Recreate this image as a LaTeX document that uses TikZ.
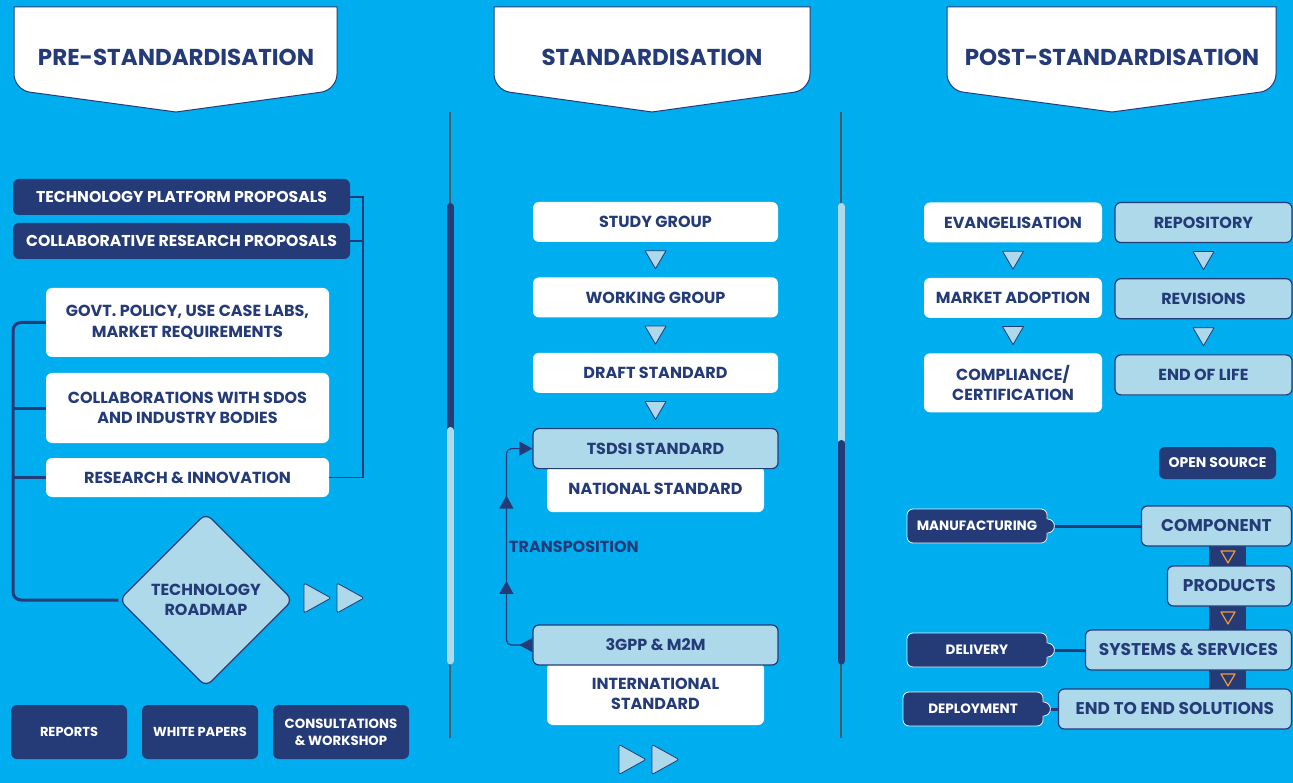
\documentclass[tikz,border=0pt]{standalone}
\usepackage{fontspec}
\setmainfont{Poppins}
\usetikzlibrary{arrows.meta, positioning, shapes.geometric, calc, decorations.markings}
\definecolor{bgblue}{HTML}{00AEEF}
\definecolor{navy}{HTML}{243B78}
\definecolor{paleblue}{HTML}{ADD9EB}
\definecolor{sepgray}{HTML}{4B5868}
\definecolor{tipor}{HTML}{F39A3A}
\tikzset{base/.style={rounded corners=6pt, inner sep=0pt, align=center, text=navy, font=\bfseries\fontsize{16}{20.5}\selectfont}}
\tikzset{wbox/.style={base, fill=white, minimum height=40pt}}
\tikzset{pbox/.style={base, fill=paleblue, draw=navy, line width=1.2pt, minimum height=40pt}}
\tikzset{nbox/.style={base, fill=navy, text=white}}
\tikzset{tagbox/.style={nbox, draw=white!70!paleblue, line width=0.8pt, minimum width=140pt, minimum height=34pt, font=\bfseries\fontsize{13.5}{16}\selectfont}}
\tikzset{head/.style={text=navy, font=\bfseries\fontsize{23}{27}\selectfont}}
\tikzset{tri/.style={fill=paleblue, draw=navy, line width=0.8pt, line join=round}}
\tikzset{otri/.style={draw=tipor, line width=1.2pt, line join=round}}
\tikzset{trunk/.style={navy, line width=3pt, rounded corners=8pt}}
\tikzset{thinlink/.style={navy, line width=1.2pt}}
\tikzset{>/.tip={Triangle[length=13pt,width=14pt]}}
% banner: left x, right x, tip x
\newcommand{\banner}[3]{\filldraw[fill=white, draw=navy, line width=1pt] (#1,7) [rounded corners=16pt] -- (#1,90) [sharp corners] -- (#3,112) [rounded corners=16pt] -- (#2,90) [sharp corners] -- (#2,7) -- cycle;}
\newcommand{\downtri}[2]{\draw[tri] ($(#1.south)!0.5!(#2.north)+(-10.5,-9)$) -- ++(21,0) -- ++(-10.5,18) -- cycle;}
\newcommand{\playtri}[2]{\draw[tri, rounded corners=2pt] ({#1-13},{#2-15}) -- ++(0,30) -- ++(27,-15) -- cycle;}

\begin{document}
\begin{tikzpicture}[x=1pt, y=-1pt]
\useasboundingbox (0,0) rectangle (1293,783);
\fill[bgblue] (0,0) rectangle (1293,783);

% headers
\banner{14}{337}{176}
\banner{494}{810}{652}
\banner{947}{1276}{1112}
\node[head] (hpre) at (176,57) {PRE-STANDARDISATION};
\node[head] (hstd) at (652,57) {STANDARDISATION};
\node[head] (hpost) at (1112,57) {POST-STANDARDISATION};

% separators
\foreach \x in {450,841} \draw[sepgray, line width=1.5pt] (\x,112) -- (\x,738);
\draw[navy, line width=7pt, line cap=round] (450,206.5) -- (450,430);
\draw[paleblue, line width=7pt, line cap=round] (450,430.5) -- (450,661);
\draw[paleblue, line width=7pt, line cap=round] (841,206.5) -- (841,440);
\draw[navy, line width=7pt, line cap=round] (841,443.5) -- (841,661);

% pre-standardisation
\coordinate (lx) at (13,0);
\coordinate (rx) at (363,0);
\node[nbox, minimum width=337pt, minimum height=36pt, font=\bfseries\fontsize{15.7}{20}\selectfont] (tp) at (181.5,197) {TECHNOLOGY PLATFORM PROPOSALS};
\node[nbox, minimum width=337pt, minimum height=36pt, font=\bfseries\fontsize{15.7}{20}\selectfont] (cr) at (181.5,241) {COLLABORATIVE RESEARCH PROPOSALS};
\node[wbox, minimum width=283pt, minimum height=69pt] (gp) at (187.5,322.5) {GOVT. POLICY, USE CASE LABS,\\MARKET REQUIREMENTS};
\node[wbox, minimum width=283pt, minimum height=70pt] (co) at (187.5,408) {COLLABORATIONS WITH SDOS\\AND INDUSTRY BODIES};
\node[wbox, minimum width=283pt, minimum height=39pt] (ri) at (187.5,477.5) {RESEARCH \& INNOVATION};
\node[base, diamond, fill=paleblue, draw=navy, line width=1.2pt, rounded corners=8pt, minimum width=174pt, minimum height=174pt, aspect=1] (rm) at (206,600) {TECHNOLOGY\\ROADMAP};
\draw[thinlink] (tp.east) -- (tp.east -| rx) |- (ri.east);
\draw[thinlink] (cr.east) -- (cr.east -| rx);
\draw[trunk] (gp.west) -| (rm.west -| lx) -- (rm.west);
\draw[trunk] (co.west) -- (co.west -| lx);
\draw[trunk] (ri.west) -- (ri.west -| lx);
\playtri{317}{598}
\playtri{350}{598}
\node[nbox, minimum width=116pt, minimum height=54pt, font=\bfseries\fontsize{13}{17}\selectfont] (rpt) at (69,732) {REPORTS};
\node[nbox, minimum width=116pt, minimum height=54pt, font=\bfseries\fontsize{13}{17}\selectfont] (wp) at (200,732) {WHITE PAPERS};
\node[nbox, minimum width=136pt, minimum height=54pt, font=\bfseries\fontsize{13.3}{17}\selectfont] (cw) at (341,732) {CONSULTATIONS\\\& WORKSHOP};

% standardisation
\node[wbox, minimum width=245pt] (sg) at (655.5,222) {STUDY GROUP};
\node[wbox, minimum width=245pt] (wg) [below=35pt of sg] {WORKING GROUP};
\node[wbox, minimum width=245pt] (dr) [below=35pt of wg] {DRAFT STANDARD};
\node[wbox, minimum width=217pt, minimum height=46pt] (ns) [below=73pt of dr] {NATIONAL STANDARD};
\node[pbox, minimum width=245pt] (ts) [below=35pt of dr] {TSDSI STANDARD};
\node[wbox, minimum width=217pt, minimum height=62pt] (is) at (655.5,694) {INTERNATIONAL\\STANDARD};
\node[pbox, minimum width=245pt] (g3) at (655.5,645) {3GPP \& M2M};
\downtri{sg}{wg}
\downtri{wg}{dr}
\downtri{dr}{ts}
\draw[thinlink, rounded corners=5pt, {>[reversed]}->, postaction={decorate}, decoration={markings, mark=at position 0.36 with {\arrow{>}}, mark=at position 0.71 with {\arrow{>}}}] (g3.west) -- ++(-26,0) |- (ts.west);
\node[base, anchor=west] (tr) at (509,547) {TRANSPOSITION};
\playtri{632}{759.5}
\playtri{665}{759.5}

% post-standardisation
\node[wbox, minimum width=178pt] (ev) at (1013,222.5) {EVANGELISATION};
\node[wbox, minimum width=178pt] (ma) [below=35pt of ev] {MARKET ADOPTION};
\node[wbox, minimum width=178pt, minimum height=59pt] (cc) [below=35pt of ma] {COMPLIANCE/\\CERTIFICATION};
\node[pbox, minimum width=177pt] (rp) at (1203.5,222.5) {REPOSITORY};
\node[pbox, minimum width=177pt] (rv) [below=35pt of rp] {REVISIONS};
\node[pbox, minimum width=177pt] (el) [below=35pt of rv] {END OF LIFE};
\downtri{ev}{ma}
\downtri{ma}{cc}
\downtri{rp}{rv}
\downtri{rv}{el}
\node[nbox, minimum width=117pt, minimum height=32pt, font=\bfseries\fontsize{14}{16}\selectfont] (os) at (1217.5,463) {OPEN SOURCE};

\fill[navy] (1209,546) rectangle (1246,689);
\node[pbox, anchor=east, minimum width=150pt, font=\bfseries\fontsize{17}{20}\selectfont] (cp) at (1292,526) {COMPONENT};
\node[pbox, anchor=east, minimum width=124pt, font=\bfseries\fontsize{17}{20}\selectfont] (pr) at (1292,586) {PRODUCTS};
\node[pbox, anchor=east, minimum width=206pt, font=\bfseries\fontsize{17}{20}\selectfont] (ss) at (1292,650) {SYSTEMS \& SERVICES};
\node[pbox, anchor=east, minimum width=233pt, font=\bfseries\fontsize{17}{20}\selectfont] (ee) at (1292,709) {END TO END SOLUTIONS};
\foreach \y in {551,612,674} \draw[otri] (1221,\y) -- ++(14,0) -- ++(-7,12) -- cycle;

\node[tagbox] (mf) at (977,526) {MANUFACTURING};
\node[tagbox] (dl) at (977,650) {DELIVERY};
\node[tagbox] (dp) at (973,709) {DEPLOYMENT};
\draw[trunk] (mf.east) -- (cp.west);
\draw[trunk] (dl.east) -- (ss.west);
\draw[trunk] (dp.east) -- (ee.west);
\foreach \t in {mf,dl,dp} {
  \fill[navy] (\t.east) circle (7);
  \draw[white!70!paleblue, line width=0.8pt] ($(\t.east)+(0,-7)$) arc[start angle=-90, end angle=90, radius=7];
}
\end{tikzpicture}
\end{document}
